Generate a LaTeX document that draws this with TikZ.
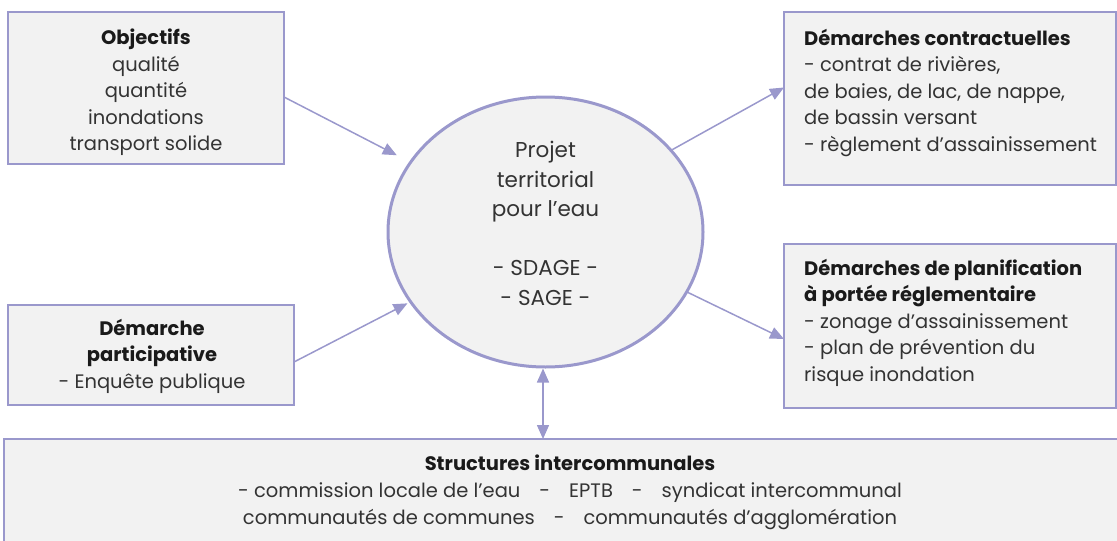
\documentclass[tikz,border=0pt]{standalone}
\usepackage{fontspec}
\setmainfont{Poppins}
\usetikzlibrary{arrows.meta,shapes.geometric}
\definecolor{lav}{HTML}{9A98CC}
\definecolor{boxfill}{HTML}{F2F2F2}
\definecolor{txt}{HTML}{333333}
\definecolor{ttl}{HTML}{1A1A1A}
\newcommand{\gapdash}{\hspace{19pt}-\hspace{19pt}}
\tikzset{
  box/.style={draw=lav, fill=boxfill, line width=1.5pt, inner sep=0pt, outer sep=0pt},
  lbl/.style={inner sep=0pt, text=txt, font=\fontsize{19.5}{26.5}\selectfont},
  arr/.style={draw=lav, line width=1.5pt, -{Triangle[length=14pt,width=12pt]}},
  darr/.style={draw=lav, line width=1.5pt, {Triangle[length=14pt,width=12pt]}-{Triangle[length=14pt,width=12pt]}},
}
\begin{document}
\begin{tikzpicture}[x=1pt,y=-1pt]
\useasboundingbox (0,0) rectangle (1117,541);
\clip (0,0) rectangle (1117,541);
% boxes
\node[box, minimum width=276, minimum height=152] (obj) at (146,88) {};
\node[box, minimum width=332, minimum height=173] (con) at (950,98.5) {};
\node[box, minimum width=332, minimum height=164] (pla) at (950,326) {};
\node[box, minimum width=286, minimum height=100] (par) at (151,355) {};
\node[box, minimum width=1120, minimum height=120] (str) at (564,499) {};
\node[ellipse, draw=lav, fill=boxfill, line width=3pt, minimum width=315, minimum height=270, inner sep=0pt] (ell) at (545.5,232) {};
% texts
\node[lbl, anchor=north, align=center] (tobj) at (146,29)
  {\textbf{\color{ttl}Objectifs}\\qualité\\quantité\\inondations\\transport solide};
\node[lbl, anchor=north west, align=left] (tcon) at (804,29)
  {\textbf{\color{ttl}Démarches contractuelles}\\- contrat de rivières,\\de baies, de lac, de nappe,\\de bassin versant\\- règlement d’assainissement};
\node[lbl, anchor=north west, align=left] (tpla) at (804,259)
  {\textbf{\color{ttl}Démarches de planification}\\\textbf{\color{ttl}à portée réglementaire}\\- zonage d’assainissement\\- plan de prévention du\\risque inondation};
\node[lbl, anchor=north, align=center] (tpar) at (152,319)
  {\textbf{\color{ttl}Démarche}\\\textbf{\color{ttl}participative}\\- Enquête publique};
\node[lbl, anchor=north, align=center, font=\fontsize{21.5}{29.5}\selectfont] (tell) at (545.5,141)
  {Projet\\territorial\\pour l’eau\\[29.5pt]- SDAGE -\\- SAGE -};
\node[lbl, anchor=north, align=center, font=\fontsize{19.5}{27}\selectfont] (tstr) at (570,455)
  {\textbf{\color{ttl}Structures intercommunales}\\- commission locale de l’eau\gapdash EPTB\gapdash syndicat intercommunal\\communautés de communes\gapdash communautés d’agglomération};
% connectors
\draw[arr, shorten >=14pt] ([yshift=-9pt]obj.east) -- (ell);
\draw[arr, shorten >=2pt] ([yshift=-7pt]par.east) -- (ell);
\draw[arr] (ell.33) -- ([yshift=11pt]con.west);
\draw[arr] (ell.-23) -- ([yshift=-13pt]pla.west);
\draw[darr] ([xshift=-2.5pt]ell.south) -- ([xshift=-21pt]str.north);
\end{tikzpicture}
\end{document}
